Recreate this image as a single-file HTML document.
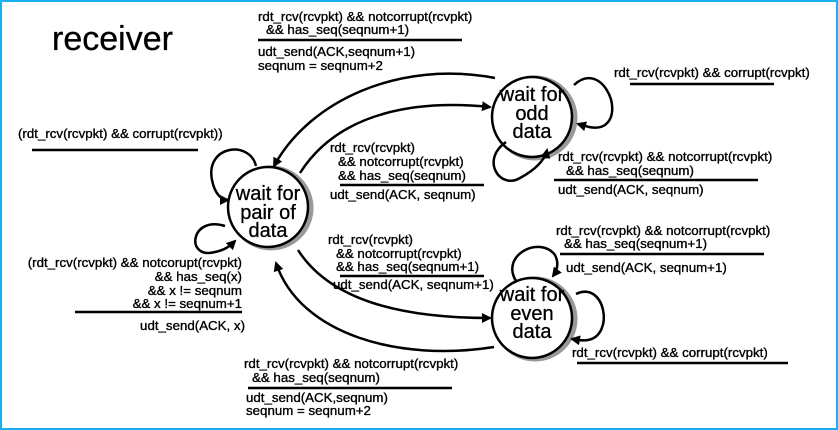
<!DOCTYPE html>
<html><head><style>
html,body{margin:0;padding:0;background:#fff}
svg{display:block}
text{font-family:"Liberation Sans",Arial,sans-serif;font-size:13.3px;fill:#000;stroke:#000;stroke-width:0.35}
.c{font-size:20px;text-anchor:middle;stroke-width:0.3}
</style></head><body>
<svg width="838" height="430" viewBox="0 0 838 430" xmlns="http://www.w3.org/2000/svg">
<defs>
<marker id="a" markerWidth="10" markerHeight="10" refX="8" refY="5" orient="auto" markerUnits="userSpaceOnUse">
<path d="M0,0 L10,5 L0,10 z" fill="#000"/></marker>
</defs>
<rect x="1" y="1" width="836" height="428" fill="none" stroke="#1ab0f0" stroke-width="2"/>
<text x="52" y="50" style="font-size:34px;stroke-width:0.3">receiver</text>

<g fill="none" stroke="#000" stroke-width="2.5">
<circle cx="271" cy="208" r="40" stroke="#999" stroke-width="5"/>
<circle cx="268" cy="207" r="40" fill="#fff"/>
<circle cx="535" cy="118" r="40" stroke="#999" stroke-width="5"/>
<circle cx="532" cy="117" r="40" fill="#fff"/>
<circle cx="535" cy="319" r="40" stroke="#999" stroke-width="5"/>
<circle cx="532" cy="318" r="40" fill="#fff"/>
<path d="M495,78 C400,60 310,100 274,166" marker-end="url(#a)"/>
<path d="M300,173 C340,110 420,100 490,107" marker-end="url(#a)"/>
<path d="M298,250 C330,300 400,318 490,318" marker-end="url(#a)"/>
<path d="M494,347 C400,362 300,335 276,263" marker-end="url(#a)"/>
<path d="M256,166 C250,140 205,145 212,180 C215,195 222,200 228,200" marker-end="url(#a)"/>
<path d="M225,226 C190,215 185,260 215,252 C225,250 230,246 235,241" marker-end="url(#a)"/>
<path d="M574,85 C600,60 625,110 605,125 C597,130 588,127 578,124" marker-end="url(#a)"/>
<path d="M506,142 C480,160 500,190 520,178 C535,170 545,160 547,150" marker-end="url(#a)"/>
<path d="M516,281 C500,255 540,235 555,255 C560,265 556,272 553,276" marker-end="url(#a)"/>
<path d="M576,294 C605,280 615,335 588,340 C582,341 578,340 572,339" marker-end="url(#a)"/>
</g>

<text class="c" x="268" y="200">wait for</text>
<text class="c" x="268" y="219">pair of</text>
<text class="c" x="268" y="237">data</text>
<text class="c" x="532" y="101">wait for</text>
<text class="c" x="532" y="120">odd</text>
<text class="c" x="532" y="138">data</text>
<text class="c" x="532" y="301">wait for</text>
<text class="c" x="532" y="320">even</text>
<text class="c" x="532" y="338">data</text>

<g stroke="#000" stroke-width="2.5">
<line x1="258" y1="40" x2="462" y2="40"/>
<line x1="340" y1="185" x2="484" y2="185"/>
<line x1="630" y1="84" x2="774" y2="84"/>
<line x1="554" y1="180" x2="758" y2="180"/>
<line x1="32" y1="150" x2="198" y2="150"/>
<line x1="75" y1="312" x2="242" y2="312"/>
<line x1="340" y1="276" x2="484" y2="276"/>
<line x1="560" y1="254" x2="764" y2="254"/>
<line x1="577" y1="363" x2="788" y2="363"/>
<line x1="248" y1="388" x2="452" y2="388"/>
</g>

<text x="258" y="21">rdt_rcv(rcvpkt) &amp;&amp; notcorrupt(rcvpkt)</text>
<text x="266" y="34">&amp;&amp; has_seq(seqnum+1)</text>
<text x="258" y="56">udt_send(ACK,seqnum+1)</text>
<text x="258" y="70">seqnum = seqnum+2</text>

<text x="330" y="152">rdt_rcv(rcvpkt)</text>
<text x="338" y="166">&amp;&amp; notcorrupt(rcvpkt)</text>
<text x="338" y="180">&amp;&amp; has_seq(seqnum)</text>
<text x="330" y="199">udt_send(ACK, seqnum)</text>

<text x="614" y="77">rdt_rcv(rcvpkt) &amp;&amp; corrupt(rcvpkt)</text>
<text x="558" y="161">rdt_rcv(rcvpkt) &amp;&amp; notcorrupt(rcvpkt)</text>
<text x="566" y="175">&amp;&amp; has_seq(seqnum)</text>
<text x="558" y="194">udt_send(ACK, seqnum)</text>

<text x="18" y="138">(rdt_rcv(rcvpkt) &amp;&amp; corrupt(rcvpkt))</text>
<text x="242" y="267" text-anchor="end">(rdt_rcv(rcvpkt) &amp;&amp; notcorupt(rcvpkt)</text>
<text x="242" y="281" text-anchor="end">&amp;&amp; has_seq(x)</text>
<text x="242" y="295" text-anchor="end">&amp;&amp; x != seqnum</text>
<text x="242" y="308" text-anchor="end">&amp;&amp; x != seqnum+1</text>
<text x="245" y="330" text-anchor="end">udt_send(ACK, x)</text>

<text x="328" y="244">rdt_rcv(rcvpkt)</text>
<text x="336" y="258">&amp;&amp; notcorrupt(rcvpkt)</text>
<text x="336" y="271">&amp;&amp; has_seq(seqnum+1)</text>
<text x="333" y="289">udt_send(ACK, seqnum+1)</text>

<text x="556" y="235">rdt_rcv(rcvpkt) &amp;&amp; notcorrupt(rcvpkt)</text>
<text x="564" y="248">&amp;&amp; has_seq(seqnum+1)</text>
<text x="566" y="272">udt_send(ACK, seqnum+1)</text>
<text x="572" y="357">rdt_rcv(rcvpkt) &amp;&amp; corrupt(rcvpkt)</text>

<text x="244" y="368">rdt_rcv(rcvpkt) &amp;&amp; notcorrupt(rcvpkt)</text>
<text x="252" y="382">&amp;&amp; has_seq(seqnum)</text>
<text x="246" y="402">udt_send(ACK,seqnum)</text>
<text x="246" y="415">seqnum = seqnum+2</text>
</svg>
</body></html>
